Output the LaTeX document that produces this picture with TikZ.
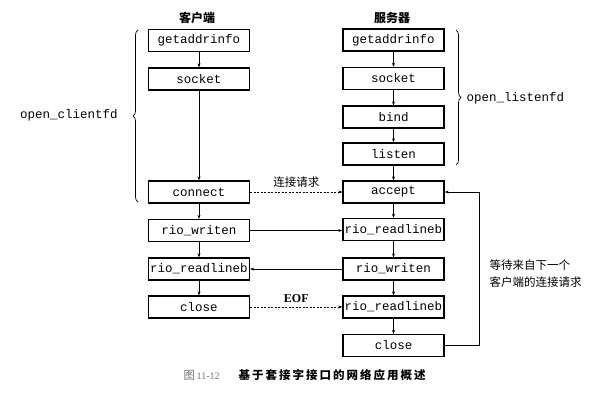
\documentclass[tikz,border=0pt]{standalone}
\usepackage{fontspec}
\setmainfont{Liberation Serif}
\setmonofont{Liberation Mono}
\newfontfamily\cjk{Noto Sans CJK SC}
\usetikzlibrary{arrows.meta,decorations.pathreplacing}
\newcommand\csp{\hspace{2pt}}
\begin{document}
\begin{tikzpicture}[x=1pt,y=-1pt,
  fn/.style={draw, line width=1.3pt, minimum width=101pt, minimum height=22pt,
    inner sep=0pt, font=\fontsize{12.5}{14}\ttfamily},
  lbl/.style={font=\fontsize{12.5}{14}\ttfamily},
  hdr/.style={font=\fontsize{12}{14}\cjk\bfseries},
  arr/.style={line width=0.6pt, -{Stealth[length=4pt,width=3pt]}},
  dsh/.style={arr, dashed, dash pattern=on 2pt off 1.5pt},
  brc/.style={decorate, decoration={brace, amplitude=5pt}, line width=0.7pt}
]
\useasboundingbox[fill=white] (0,0) rectangle (600,404);

% headers
\node[hdr] (hc) at (197,18) {客户端};
\node[hdr] (hs) at (392,18) {服务器};

% client
\node[fn] (cg) at (199,40.5) {getaddrinfo};
\node[fn] (cs) at (199,79) {socket};
\node[fn] (cc) at (199,192) {connect};
\node[fn] (cw) at (199,230.5) {rio\_writen};
\node[fn] (cr) at (199,269) {rio\_readlineb};
\node[fn] (cx) at (199,307) {close};

% server
\node[fn] (sg) at (393.5,40) {getaddrinfo};
\node[fn] (ss) at (393.5,78.5) {socket};
\node[fn] (sb) at (393.5,117) {bind};
\node[fn] (sl) at (393.5,154) {listen};
\node[fn] (sa) at (393.5,192) {accept};
\node[fn] (sr) at (393.5,229.5) {rio\_readlineb};
\node[fn] (sw) at (393.5,269) {rio\_writen};
\node[fn] (sr2) at (393.5,307) {rio\_readlineb};
\node[fn] (sx) at (393.5,345.5) {close};

% vertical arrows
\foreach \a/\b in {cg/cs, cs/cc, cc/cw, cw/cr, cr/cx,
                   sg/ss, ss/sb, sb/sl, sl/sa, sa/sr, sr/sw, sw/sr2, sr2/sx}
  \draw[arr] (\a.south) -- (\b.north);

% horizontal connectors
\draw[dsh] (cc.east) -- node[above=1pt, font=\fontsize{11.5}{13}\cjk] (lreq) {连接请求} (sa.west);
\draw[arr] (cw.east) -- (sr.west |- cw.east);
\draw[arr] (sw.west) -- (cr.east);
\draw[dsh] (cx.east) -- node[above=1pt, font=\fontsize{12}{14}\bfseries] (leof) {EOF} (sr2.west);

% loop back
\coordinate (lp) at (479,345.5);
\draw[arr] (sx.east) -- (lp) |- (sa.east);
\node[anchor=west, align=left, font=\fontsize{11.5}{16.5}\cjk] (lwait) at (486,273.5)
  {等待来自下一个\\客户端的连接请求};

% braces
\coordinate (b1s) at (138,202);
\coordinate (b1e) at (138,30);
\draw[brc] (b1s) -- (b1e);
\node[lbl] (oc) at (69,115) {open\_clientfd};
\coordinate (b2s) at (456,30);
\coordinate (b2e) at (456,165);
\draw[brc] (b2s) -- (b2e);
\node[lbl] (ol) at (515.5,98) {open\_listenfd};

% caption
\node[anchor=west, font=\fontsize{11.5}{13}] (cap) at (180,375)
  {\textcolor{black!55}{{\cjk 图}\,11-12}\hspace{19pt}{\cjk\bfseries 基\csp 于\csp 套\csp 接\csp 字\csp 接\csp 口\csp 的\csp 网\csp 络\csp 应\csp 用\csp 概\csp 述}};
\end{tikzpicture}
\end{document}
